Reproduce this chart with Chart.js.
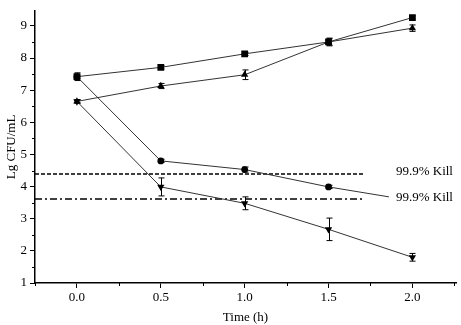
<!DOCTYPE html>
<html><head><meta charset="utf-8">
<script src="https://cdn.jsdelivr.net/npm/chart.js@4/dist/chart.umd.min.js"></script>
<style>html,body{margin:0;padding:0;background:#fff}#w{width:461px;height:325px}</style>
</head><body><div id="w"><canvas id="c"></canvas></div>
<script>
const times = [0.0, 0.5, 1.0, 1.5, 2.0];
const squareVals = [7.42, 7.71, 8.13, 8.50, 9.26];
const squareErr = [0.12, 0.05, 0.05, 0.10, 0.05];
const triangleVals = [6.65, 7.13, 7.48, 8.50, 8.93];
const triangleErr = [0.05, 0.08, 0.15, 0.12, 0.10];
const circleVals = [7.42, 4.80, 4.53, 3.99, 3.56];
const circleErr = [0.05, 0.05, 0.08, 0.05, 0.05];
const invTriVals = [6.65, 3.99, 3.48, 2.67, 1.80];
const invTriErr = [0.05, 0.28, 0.20, 0.35, 0.12];
const killLevels = [4.39, 3.61];
const killLineX = [-0.25, 1.71];
const killLabels = ['99.9% Kill', '99.9% Kill'];
const yTicks = [1, 2, 3, 4, 5, 6, 7, 8, 9];
const xTicks = [0.0, 0.5, 1.0, 1.5, 2.0];

const FONT = "'Liberation Serif', 'DejaVu Serif', serif";
const pts = (vals) => times.map((t, i) => ({x: t, y: vals[i]}));

function series(label, vals, errs, style, radius, rot) {
  return {label, data: pts(vals), errs, borderColor: '#333', borderWidth: 1, pointStyle: style,
    pointRotation: rot || 0, pointRadius: radius, pointBackgroundColor: '#000',
    pointBorderColor: '#000', pointBorderWidth: 0, showLine: true, tension: 0, order: 1};
}

const datasets = [
  series('square', squareVals, squareErr, 'rect', 4.8),
  series('triangle', triangleVals, triangleErr, 'triangle', 4.2),
  series('circle', circleVals, circleErr, 'circle', 3.4),
  series('invtri', invTriVals, invTriErr, 'triangle', 4.2, 180),
  {label: 'kill1', data: killLineX.map(x => ({x, y: killLevels[0]})), borderColor: '#000', borderWidth: 1.5,
   borderDash: [4, 2], pointRadius: 0, showLine: true, order: 2},
  {label: 'kill2', data: killLineX.map(x => ({x, y: killLevels[1]})), borderColor: '#000', borderWidth: 1.5,
   borderDash: [7, 3, 2, 3], pointRadius: 0, showLine: true, order: 2}
];

const errPlugin = {
  id: 'err',
  afterDatasetsDraw(chart) {
    const ctx = chart.ctx, xs = chart.scales.x, ys = chart.scales.y;
    ctx.save();
    ctx.strokeStyle = '#000'; ctx.lineWidth = 1;
    chart.data.datasets.forEach(ds => {
      if (!ds.errs) return;
      ds.data.forEach((p, i) => {
        const e = ds.errs[i]; if (!e) return;
        const px = Math.round(xs.getPixelForValue(p.x)) + 0.5;
        const y1 = ys.getPixelForValue(p.y + e), y2 = ys.getPixelForValue(p.y - e);
        ctx.beginPath();
        ctx.moveTo(px, y1); ctx.lineTo(px, y2);
        ctx.moveTo(px - 3, y1); ctx.lineTo(px + 3, y1);
        ctx.moveTo(px - 3, y2); ctx.lineTo(px + 3, y2);
        ctx.stroke();
      });
    });
    // minor ticks
    ctx.beginPath();
    for (let v = 1.5; v < ys.max; v += 1) {
      const py = Math.round(ys.getPixelForValue(v)) + 0.5;
      ctx.moveTo(ys.right - 3, py); ctx.lineTo(ys.right, py);
    }
    for (let v = -0.25; v <= xs.max; v += 0.5) {
      const px = Math.round(xs.getPixelForValue(v)) + 0.5;
      ctx.moveTo(px, xs.top); ctx.lineTo(px, xs.top + 3);
    }
    ctx.stroke();
    // labels with white background
    const lx = xs.getPixelForValue(1.86);
    ctx.fillStyle = '#fff';
    const top = ys.getPixelForValue(killLevels[0]) - 10;
    const bot = ys.getPixelForValue(killLevels[1]) + 12;
    ctx.fillRect(lx, top, chart.width - lx, bot - top);
    ctx.fillStyle = '#000';
    ctx.font = '13px ' + FONT;
    ctx.textBaseline = 'middle';
    ctx.textAlign = 'left';
    killLevels.forEach((lv, i) => {
      ctx.fillText(killLabels[i], lx + 7, ys.getPixelForValue(lv) - 2);
    });
    ctx.restore();
  }
};

new Chart(document.getElementById('c'), {
  type: 'scatter',
  data: {datasets},
  plugins: [errPlugin],
  options: {
    responsive: true, maintainAspectRatio: false, animation: false,
    layout: {padding: {top: 4, right: 5, left: 0, bottom: 0}},
    plugins: {legend: {display: false}, tooltip: {enabled: false}},
    scales: {
      x: {
        type: 'linear', min: -0.25, max: 2.26,
        afterBuildTicks: s => { s.ticks = xTicks.map(v => ({value: v})); },
        afterFit: s => { s.height = 42; },
        border: {color: '#000', width: 1.5},
        grid: {display: true, drawOnChartArea: false, tickLength: 5, color: '#000', tickColor: '#000'},
        ticks: {color: '#000', font: {family: FONT, size: 13}, padding: 2, callback: v => v.toFixed(1)},
        title: {display: true, text: 'Time (h)', color: '#000', font: {family: FONT, size: 13}, padding: {top: 2, bottom: 0}}
      },
      y: {
        type: 'linear', min: 1, max: 9.47,
        afterBuildTicks: s => { s.ticks = yTicks.map(v => ({value: v})); },
        afterFit: s => { s.width = 35; },
        border: {color: '#000', width: 1.5},
        grid: {display: true, drawOnChartArea: false, tickLength: 5, color: '#000', tickColor: '#000'},
        ticks: {color: '#000', font: {family: FONT, size: 13}, padding: 3},
        title: {display: true, text: 'Lg CFU/mL', color: '#000', font: {family: FONT, size: 13}, padding: {top: 4, bottom: 0}}
      }
    }
  }
});
</script></body></html>
